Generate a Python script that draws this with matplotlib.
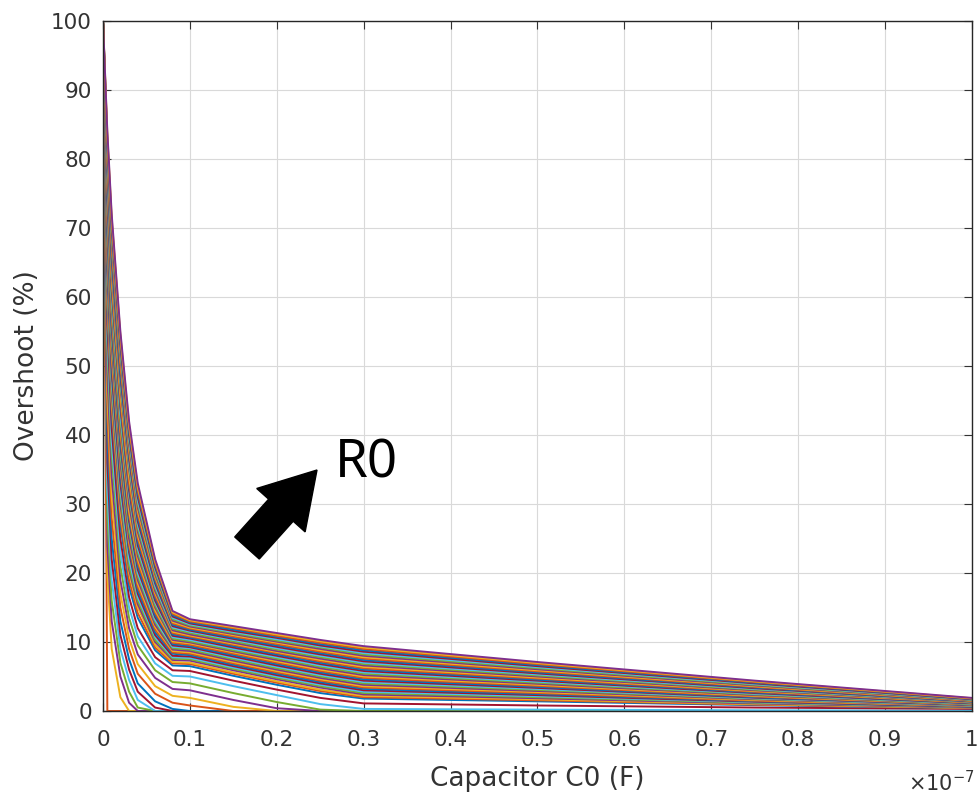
import matplotlib
matplotlib.use('Agg')
import matplotlib.pyplot as plt
import numpy as np
from matplotlib.patches import FancyArrow

# C0 sample points (units of 1e-7 F)
c0_grid = [0, 0.005, 0.01, 0.02, 0.03, 0.04, 0.06, 0.08, 0.1, 0.15, 0.2, 0.25, 0.3, 0.5, 0.75, 1.0]

# overshoot curves (%), one row per R0 value, low R0 first
overshoot = [
    [100, 0, 0, 0, 0, 0, 0, 0, 0, 0, 0, 0, 0, 0, 0, 0],
    [100, 20, 9, 2, 0, 0, 0, 0, 0, 0, 0, 0, 0, 0, 0, 0],
    [100, 24, 13, 5, 1.2, 0, 0, 0, 0, 0, 0, 0, 0, 0, 0, 0],
    [100, 28, 16, 7, 2.8, 0.5, 0, 0, 0, 0, 0, 0, 0, 0, 0, 0],
    [100, 32, 19, 9, 4.5, 1.6, 0, 0, 0, 0, 0, 0, 0, 0, 0, 0],
    [100, 36, 22, 11, 6, 2.8, 0.5, 0, 0, 0, 0, 0, 0, 0, 0, 0],
    [100, 40, 25, 13, 7.5, 4.0, 1.4, 0.3, 0, 0, 0, 0, 0, 0, 0, 0],
    [100, 43, 28, 15, 9, 5.4, 2.5, 1.2, 0.8, 0, 0, 0, 0, 0, 0, 0],
    [100, 46, 31, 17, 10.5, 6.8, 3.6, 2.2, 1.9, 0.6, 0, 0, 0, 0, 0, 0],
    [100, 49, 34, 19, 12, 8.2, 4.8, 3.2, 3.0, 1.6, 0.4, 0, 0, 0, 0, 0],
    [100, 52, 37, 21, 13.5, 9.5, 5.9, 4.2, 4.0, 2.6, 1.3, 0.2, 0, 0, 0, 0],
    [100, 54, 39, 23, 15, 10.8, 6.9, 5.1, 5.0, 3.6, 2.3, 1.0, 0.3, 0.2, 0.1, 0.05],
    [100, 56, 41, 25, 16.5, 12, 7.8, 5.9, 5.8, 4.4, 3.1, 1.9, 1.1, 0.8, 0.5, 0.3],
    [100, 58, 43, 27, 18, 13.5, 8.8, 6.6, 6.5, 5.1, 3.8, 2.6, 1.8, 1.4, 0.85, 0.4],
    [100, 59, 44, 28, 19, 14.2, 9.2, 6.9, 6.8, 5.4, 4.1, 2.9, 2.0, 1.55, 0.93, 0.43],
    [100, 60, 45, 29, 20, 15, 9.6, 7.1, 7.0, 5.6, 4.3, 3.1, 2.2, 1.7, 1.0, 0.45],
    [100, 61, 46, 30, 20.5, 15.5, 10.0, 7.4, 7.3, 5.9, 4.6, 3.4, 2.4, 1.85, 1.1, 0.5],
    [100, 62, 47, 31, 21, 16, 10.3, 7.6, 7.5, 6.1, 4.8, 3.6, 2.6, 2.0, 1.2, 0.55],
    [100, 63, 48, 32, 22, 16.5, 10.7, 7.8, 7.7, 6.3, 5.0, 3.8, 2.8, 2.15, 1.28, 0.58],
    [100, 64, 49, 33, 23, 17, 11.0, 8.0, 7.9, 6.5, 5.2, 4.0, 3.0, 2.3, 1.35, 0.6],
    [100, 65, 50, 34, 23.5, 17.5, 11.4, 8.3, 8.1, 6.7, 5.4, 4.2, 3.2, 2.45, 1.43, 0.65],
    [100, 66, 51, 35, 24, 18, 11.8, 8.5, 8.3, 6.9, 5.6, 4.4, 3.4, 2.6, 1.5, 0.7],
    [100, 66.5, 52, 35.5, 24.5, 18.5, 12.2, 8.7, 8.5, 7.1, 5.8, 4.6, 3.6, 2.75, 1.6, 0.72],
    [100, 67, 53, 36, 25, 19, 12.5, 8.9, 8.7, 7.3, 6.0, 4.8, 3.8, 2.9, 1.7, 0.75],
    [100, 68, 54, 37, 26, 19.5, 12.9, 9.1, 8.9, 7.5, 6.2, 5.0, 4.0, 3.05, 1.78, 0.78],
    [100, 69, 55, 38, 27, 20, 13.2, 9.3, 9.1, 7.7, 6.4, 5.2, 4.2, 3.2, 1.85, 0.8],
    [100, 69.5, 55.5, 38.5, 27.5, 20.5, 13.6, 9.5, 9.25, 7.9, 6.6, 5.4, 4.4, 3.35, 1.93, 0.85],
    [100, 70, 56, 39, 28, 21, 13.9, 9.7, 9.4, 8.1, 6.8, 5.6, 4.6, 3.5, 2.0, 0.9],
    [100, 71, 57, 40, 28.5, 21.5, 14.3, 9.9, 9.6, 8.3, 7.0, 5.8, 4.8, 3.65, 2.1, 0.93],
    [100, 72, 58, 41, 29, 22, 14.6, 10.1, 9.8, 8.5, 7.2, 6.0, 5.0, 3.8, 2.2, 0.95],
    [100, 72.5, 58.5, 41.5, 30, 22.5, 15.0, 10.3, 9.95, 8.65, 7.4, 6.2, 5.2, 3.95, 2.3, 0.98],
    [100, 73, 59, 42, 31, 23, 15.3, 10.5, 10.1, 8.8, 7.6, 6.4, 5.4, 4.1, 2.4, 1.0],
    [100, 73.5, 60, 43, 31.5, 23.5, 15.7, 10.7, 10.3, 9.0, 7.8, 6.6, 5.6, 4.25, 2.5, 1.05],
    [100, 74, 61, 44, 32, 24, 16.0, 10.9, 10.5, 9.2, 8.0, 6.8, 5.8, 4.4, 2.6, 1.1],
    [100, 75, 61.5, 44.5, 32.5, 24.5, 16.4, 11.1, 10.65, 9.4, 8.2, 7.0, 6.0, 4.55, 2.7, 1.15],
    [100, 76, 62, 45, 33, 25, 16.7, 11.3, 10.8, 9.6, 8.4, 7.2, 6.2, 4.7, 2.8, 1.2],
    [100, 76.5, 63, 46, 34, 25.5, 17.1, 11.5, 10.95, 9.75, 8.55, 7.4, 6.4, 4.85, 2.9, 1.25],
    [100, 77, 64, 47, 35, 26, 17.4, 11.7, 11.1, 9.9, 8.7, 7.6, 6.6, 5.0, 3.0, 1.3],
    [100, 77.5, 64.5, 47.5, 35.5, 26.5, 17.8, 11.9, 11.3, 10.1, 8.9, 7.8, 6.8, 5.15, 3.1, 1.33],
    [100, 78, 65, 48, 36, 27, 18.1, 12.1, 11.5, 10.3, 9.1, 8.0, 7.0, 5.3, 3.2, 1.35],
    [100, 78.5, 65.5, 48.5, 36.5, 27.5, 18.5, 12.3, 11.65, 10.45, 9.3, 8.2, 7.2, 5.45, 3.3, 1.38],
    [100, 79, 66, 49, 37, 28, 18.8, 12.5, 11.8, 10.6, 9.5, 8.4, 7.4, 5.6, 3.4, 1.4],
    [100, 79.5, 67, 50, 37.5, 28.5, 19.2, 12.7, 11.95, 10.8, 9.7, 8.6, 7.6, 5.75, 3.5, 1.45],
    [100, 80, 68, 51, 38, 29, 19.5, 12.9, 12.1, 11.0, 9.9, 8.8, 7.8, 5.9, 3.6, 1.5],
    [100, 80.5, 68.5, 51.5, 38.5, 29.5, 19.8, 13.1, 12.25, 11.15, 10.05, 9.0, 8.0, 6.05, 3.7, 1.55],
    [100, 81, 69, 52, 39, 30, 20.1, 13.3, 12.4, 11.3, 10.2, 9.2, 8.2, 6.2, 3.8, 1.6],
    [100, 81.5, 69.5, 52.5, 39.5, 30.5, 20.5, 13.5, 12.55, 11.45, 10.4, 9.35, 8.4, 6.35, 3.9, 1.65],
    [100, 82, 70, 53, 40, 31, 20.8, 13.7, 12.7, 11.6, 10.6, 9.5, 8.6, 6.5, 4.0, 1.7],
    [100, 82.5, 70.5, 53.5, 40.5, 31.5, 21.1, 13.9, 12.85, 11.8, 10.75, 9.7, 8.8, 6.65, 4.1, 1.75],
    [100, 83, 71, 54, 41, 32, 21.4, 14.1, 13.0, 12.0, 10.9, 9.9, 9.0, 6.8, 4.2, 1.8],
    [100, 83.5, 71.5, 54.5, 41.5, 32.5, 21.7, 14.3, 13.15, 12.15, 11.1, 10.1, 9.2, 6.95, 4.3, 1.85],
    [100, 84, 72, 55, 42, 33, 22.0, 14.5, 13.3, 12.3, 11.3, 10.3, 9.4, 7.1, 4.4, 1.9],
]

xtick_vals = [0, 0.1, 0.2, 0.3, 0.4, 0.5, 0.6, 0.7, 0.8, 0.9, 1]
xtick_labels = ['0', '0.1', '0.2', '0.3', '0.4', '0.5', '0.6', '0.7', '0.8', '0.9', '1']
ytick_vals = [0, 10, 20, 30, 40, 50, 60, 70, 80, 90, 100]

# matlab default line colours
mcolors = [(0, 0.447, 0.741), (0.85, 0.325, 0.098), (0.929, 0.694, 0.125),
           (0.494, 0.184, 0.556), (0.466, 0.674, 0.188), (0.301, 0.745, 0.933),
           (0.635, 0.078, 0.184)]

plt.rcParams['font.family'] = ['DejaVu Sans']

fig = plt.figure(figsize=(9.79, 7.97), dpi=100)
ax = fig.add_axes([103/979, 86/797, 869/979, 690/797])

x = np.array(c0_grid) * 1e-7
n = len(overshoot)
for i, row in enumerate(overshoot):
    # colour order chosen so the last (top) curve ends on purple
    ci = (i + 3 - (n - 1)) % 7
    ax.plot(x, row, color=mcolors[ci], lw=1.4)

dark = (0.2, 0.2, 0.2)
ax.set_xlim(0, 1e-7)
ax.set_ylim(0, 100)
ax.set_xticks(np.array(xtick_vals) * 1e-7)
ax.set_xticklabels(xtick_labels)
ax.set_yticks(ytick_vals)
ax.tick_params(direction='in', length=6, width=0.8, top=True, right=True,
               labelsize=15.5, colors=dark)
ax.tick_params(axis='x', pad=14)
ax.tick_params(axis='y', pad=8)
ax.grid(True, color=(0.85, 0.85, 0.85), lw=0.8)
ax.set_axisbelow(True)
for s in ax.spines.values():
    s.set_color((0.15, 0.15, 0.15))
    s.set_linewidth(1.0)

ax.set_xlabel('Capacitor C0 (F)', fontsize=19, color=dark, labelpad=11)
ax.set_ylabel('Overshoot (%)', fontsize=19, color=dark, labelpad=8)
ax.text(1.003, -0.085, r'$\times10^{-7}$', transform=ax.transAxes, fontsize=15,
        color=dark, ha='right', va='top')

# R0 annotation
ax.text(0.267e-7, 33.9, 'R0', fontsize=38, family='Noto Sans', color='black',
        ha='left', va='baseline')
arr = FancyArrow(2.47, 2.49, 0.70, 0.78, width=0.33, head_width=0.65,
                 head_length=0.54, length_includes_head=True, color='black',
                 transform=fig.dpi_scale_trans)
fig.add_artist(arr)

fig.savefig('out.png', dpi=100)
